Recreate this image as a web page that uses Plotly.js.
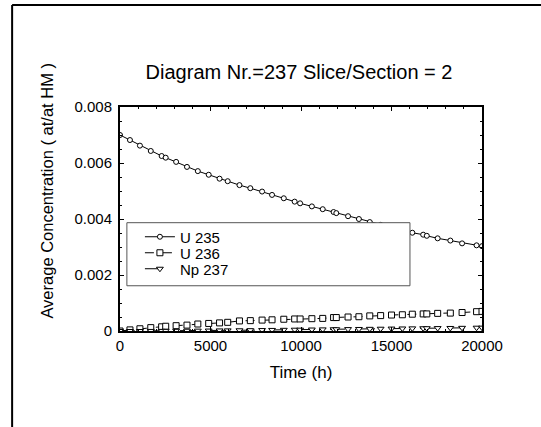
<!DOCTYPE html>
<html>
<head>
<meta charset="utf-8">
<script src="https://cdn.plot.ly/plotly-3.0.1.min.js"></script>
<style>html,body{margin:0;padding:0;background:#fff;}#chart{width:541px;height:427px;}</style>
</head>
<body>
<div id="chart"></div>
<script>
const timeHours = [0, 550, 1100, 1700, 2300, 2525, 3100, 3700, 4300, 4900, 5500, 5950, 6600, 7200, 7850, 8400, 9050, 9650, 9950, 10600, 11200, 11800, 11950, 12600, 13200, 13800, 14400, 15000, 15600, 16150, 16750, 16950, 17550, 18250, 18900, 19700, 20000];
const u235 = [0.00700, 0.00682, 0.00662, 0.00643, 0.00625, 0.00619, 0.00604, 0.00586, 0.00571, 0.00558, 0.00544, 0.00535, 0.00521, 0.00510, 0.00498, 0.00486, 0.00474, 0.00462, 0.00456, 0.00445, 0.00435, 0.00425, 0.00421, 0.00410, 0.00400, 0.00389, 0.00379, 0.00370, 0.00360, 0.00351, 0.00344, 0.00340, 0.00331, 0.00323, 0.00313, 0.00306, 0.00303];
const u236 = [0.00000, 0.00004, 0.00008, 0.00012, 0.00015, 0.00017, 0.00019, 0.00021, 0.00025, 0.00027, 0.00029, 0.00031, 0.00036, 0.00037, 0.00039, 0.00040, 0.00042, 0.00043, 0.00043, 0.00044, 0.00045, 0.00048, 0.00048, 0.00050, 0.00051, 0.00054, 0.00055, 0.00057, 0.00058, 0.00060, 0.00061, 0.00061, 0.00063, 0.00064, 0.00066, 0.00069, 0.00070];
const np237 = [0, 0, 0, 0.000002, 0.000004, 0.000005, 0.000007, 0.00001, 0.000013, 0.000016, 0.00002, 0.000022, 0.000026, 0.00003, 0.000034, 0.000038, 0.000042, 0.000046, 0.000048, 0.000053, 0.000057, 0.000062, 0.000063, 0.000068, 0.000072, 0.000077, 0.000081, 0.000086, 0.00009, 0.000094, 0.000098, 0.0001, 0.000104, 0.000108, 0.000113, 0.000118, 0.00012];
const seriesNames = ["U 235", "U 236", "Np 237"];
const xTicks = [0, 5000, 10000, 15000, 20000];
const xTickText = ["0", "5000", "10000", "15000", "20000"];
const yTicks = [0, 0.002, 0.004, 0.006, 0.008];
const yTickText = ["0", "0.002", "0.004", "0.006", "0.008"];

const font = "Liberation Sans, Arial, sans-serif";
const mk = (sym, size) => ({symbol: sym, size: size, color: "#fff", line: {width: 1, color: "#000"}});
const traces = [
  {x: timeHours, y: u235, name: seriesNames[0], legend: "legend", mode: "lines+markers", line: {color: "#000", width: 1, dash: "solid"}, marker: mk("circle", 5)},
  {x: timeHours, y: u236, name: seriesNames[1], legend: "legend2", mode: "lines+markers", line: {color: "#000", width: 1, dash: "dash"}, marker: mk("square", 6)},
  {x: timeHours, y: np237, name: seriesNames[2], legend: "legend3", mode: "lines+markers", line: {color: "#000", width: 1, dash: "longdash"}, marker: mk("triangle-down", 6)}
];

const legendBase = (y) => ({x: 0.055, y: y, xanchor: "left", yanchor: "middle", bgcolor: "rgba(0,0,0,0)", borderwidth: 0, font: {family: font, size: 15, color: "#000"}, itemwidth: 30});

const layout = {
  width: 541, height: 427,
  margin: {l: 120, r: 59, t: 107, b: 96},
  paper_bgcolor: "#fff", plot_bgcolor: "#fff",
  font: {family: font, size: 15, color: "#000"},
  showlegend: true,
  title: {text: "Diagram Nr.=237 Slice/Section = 2", font: {family: font, size: 20, color: "#000"}, x: 0.5527, xanchor: "center", y: 0.8314, yanchor: "middle"},
  xaxis: {
    range: [0, 20000], tickvals: xTicks, ticktext: xTickText,
    showgrid: false, zeroline: false, showline: true, linecolor: "#000", linewidth: 2, mirror: "ticks",
    ticks: "inside", ticklen: 4, tickcolor: "#000",
    minor: {dtick: 1000, ticks: "inside", ticklen: 2, tickcolor: "#000"},
    title: {text: "Time (h)", font: {family: font, size: 17}, standoff: 13},
    tickfont: {size: 15}
  },
  yaxis: {
    range: [0, 0.008], tickvals: yTicks, ticktext: yTickText,
    showgrid: false, zeroline: false, showline: true, linecolor: "#000", linewidth: 2, mirror: "ticks",
    ticks: "inside", ticklen: 4, tickcolor: "#000", ticklabelstandoff: 3,
    minor: {dtick: 0.0005, ticks: "inside", ticklen: 2, tickcolor: "#000"},
    tickfont: {size: 15}
  },
  legend: legendBase(0.4196),
  legend2: legendBase(0.3482),
  legend3: legendBase(0.2768),
  annotations: [
    {text: "Average Concentration ( at/at HM )", xref: "paper", yref: "paper", x: -0.2003, y: 0.629, xanchor: "center", yanchor: "middle", textangle: -90, showarrow: false, font: {family: font, size: 16.5, color: "#000"}}
  ],
  shapes: [
    {type: "rect", xref: "paper", yref: "paper", x0: 0.019, x1: 0.801, y0: 0.202, y1: 0.4835, fillcolor: "#fff", line: {color: "#555", width: 1}, layer: "above"},
    {type: "line", xref: "paper", yref: "paper", x0: -0.298, x1: 1.17, y0: 1.455, y1: 1.455, line: {color: "#000", width: 2}},
    {type: "line", xref: "paper", yref: "paper", x0: -0.298, x1: -0.298, y0: 1.455, y1: -0.44, line: {color: "#000", width: 2}}
  ]
};

Plotly.newPlot("chart", traces, layout, {displayModeBar: false, staticPlot: true});
</script>
</body>
</html>
